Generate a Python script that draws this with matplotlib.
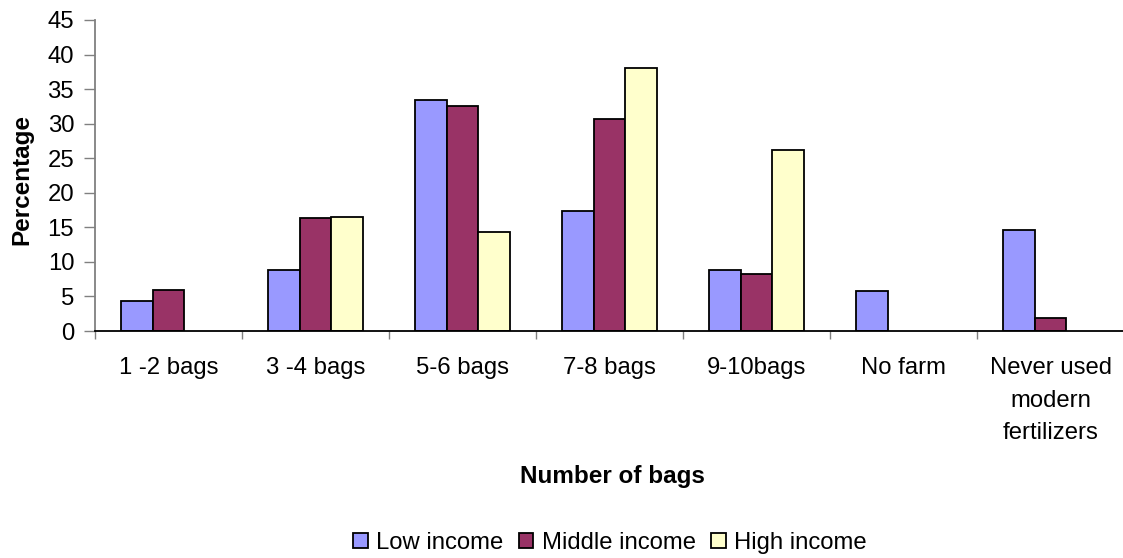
import matplotlib
matplotlib.use("Agg")
import matplotlib.pyplot as plt
import numpy as np

categories = ["1 -2 bags", "3 -4 bags", "5-6 bags", "7-8 bags", "9-10bags",
              "No farm", "Never used\nmodern\nfertilizers"]
low_income = [4.3, 8.8, 33.4, 17.4, 8.8, 5.8, 14.6]
middle_income = [6.0, 16.3, 32.6, 30.7, 8.3, 0, 1.9]
high_income = [0, 16.5, 14.3, 38.1, 26.2, 0, 0]
series_names = ["Low income", "Middle income", "High income"]
colors = ["#9999FF", "#993366", "#FFFFCC"]
yticks = [0, 5, 10, 15, 20, 25, 30, 35, 40, 45]

plt.rcParams['font.family'] = ['Liberation Sans', 'DejaVu Sans']

fig = plt.figure(figsize=(11.23, 5.58), dpi=100)
ax = fig.add_axes([95/1123, 1-331/558, 1029/1123, 311/558])

x = np.arange(len(categories))
w = 0.215
for i, (vals, name, c) in enumerate(zip([low_income, middle_income, high_income], series_names, colors)):
    vals = np.array(vals, dtype=float)
    mask = vals > 0
    ax.bar(x[mask] + (i - 1) * w, vals[mask], width=w, color=c, edgecolor='black',
           linewidth=1.3, label=name)

ax.set_xlim(-0.5, len(categories) - 0.5)
ax.set_ylim(0, 45)
ax.set_yticks(yticks)
ax.set_yticklabels([str(t) for t in yticks])

ax.set_xticks(x)
ax.set_xticklabels(categories, linespacing=1.62)
ax.set_xticks(np.arange(len(categories) + 1) - 0.5, minor=True)
ax.tick_params(axis='x', which='major', length=0, pad=19, labelsize=17.2)
ax.tick_params(axis='x', which='minor', length=6, width=1, color='#808080', direction='out')
ax.tick_params(axis='y', length=8, width=1, color='#808080', pad=7, labelsize=17.2)

for s in ['top', 'right']:
    ax.spines[s].set_visible(False)
ax.spines['left'].set_color('#808080')
ax.spines['left'].set_linewidth(1.3)
ax.spines['bottom'].set_color('black')
ax.spines['bottom'].set_linewidth(1.3)

fig.text(22/1123, 1-180/558, "Percentage", rotation=90, ha='center', va='center',
         fontsize=17.5, fontweight='bold')
fig.text(612/1123, 1-477/558, "Number of bags", ha='center', va='center',
         fontsize=17.5, fontweight='bold')

handles, labels = ax.get_legend_handles_labels()
leg = fig.legend(handles, labels, loc='center', bbox_to_anchor=(610/1123, 1-543/558),
                 ncol=3, frameon=False, fontsize=17.2, handlelength=0.6, handleheight=0.6,
                 handletextpad=0.35, columnspacing=0.65, borderaxespad=0)

fig.savefig("out.png", dpi=100)
